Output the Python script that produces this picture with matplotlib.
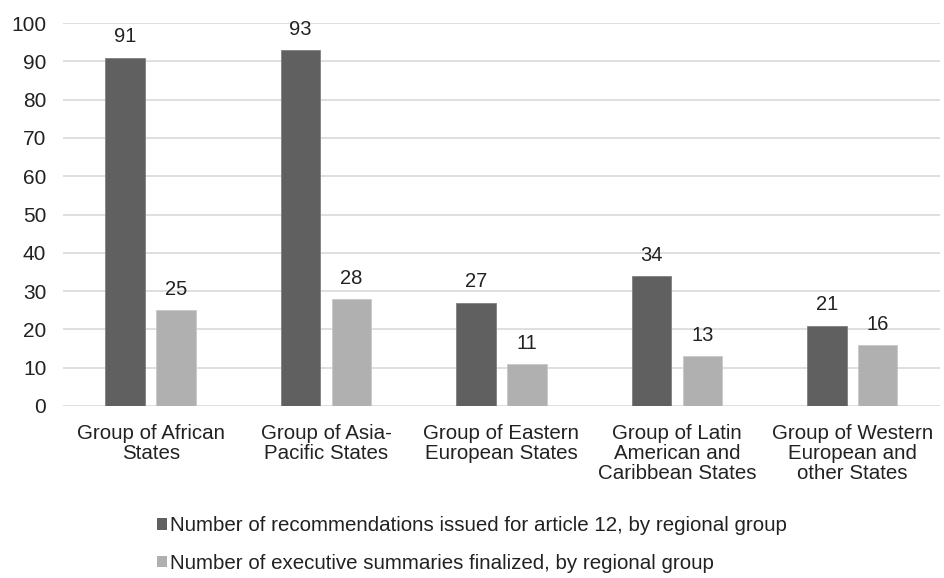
import numpy as np
import matplotlib.pyplot as plt
from matplotlib.patches import Patch

plt.rcParams['font.family'] = ['Liberation Sans', 'DejaVu Sans']

groups = [
    "Group of African\nStates",
    "Group of Asia-\nPacific States",
    "Group of Eastern\nEuropean States",
    "Group of Latin\nAmerican and\nCaribbean States",
    "Group of Western\nEuropean and\nother States",
]
recommendations = [91, 93, 27, 34, 21]
summaries = [25, 28, 11, 13, 16]

series_names = [
    "Number of recommendations issued for article 12, by regional group",
    "Number of executive summaries finalized, by regional group",
]
dark = "#606060"
light = "#b0b0b0"
txt = "#222222"

fig = plt.figure(figsize=(9.44, 5.78), dpi=100)
ax = fig.add_axes([0.0667, 0.2976, 0.929, 0.6625])

x = np.arange(len(groups))
w = 0.225
off = 0.145
b1 = ax.bar(x - off, recommendations, w, color=dark, edgecolor="#808080", linewidth=0.6)
b2 = ax.bar(x + off, summaries, w, color=light, edgecolor="#c8c8c8", linewidth=0.6)

for bars, vals in ((b1, recommendations), (b2, summaries)):
    for bar, v in zip(bars, vals):
        ax.annotate(str(v), (bar.get_x() + bar.get_width() / 2, v),
                    xytext=(0, 8), textcoords="offset points",
                    ha="center", va="bottom", fontsize=14.5, color=txt)

ax.set_xlim(-0.5, len(groups) - 0.5)
ax.set_ylim(0, 100)
ax.set_yticks(range(0, 101, 10))
ax.set_xticks(x)
ax.set_xticklabels(groups, fontsize=14.8, color=txt, linespacing=1.05)
ax.tick_params(axis="y", labelsize=15, labelcolor=txt, length=0, pad=12)
ax.tick_params(axis="x", length=0, pad=13)
ax.grid(axis="y", color="#d9d9d9", linewidth=1.2)
ax.set_axisbelow(True)
for s in ax.spines.values():
    s.set_visible(False)

handles = [Patch(facecolor=dark, label=series_names[0]),
           Patch(facecolor=light, label=series_names[1])]
fig.legend(handles=handles, loc="center", bbox_to_anchor=(0.5, 0.058),
           frameon=False, fontsize=14.8, labelspacing=0.9,
           handlelength=0.5, handleheight=0.5, handletextpad=0.15,
           labelcolor=txt)

fig.savefig("out.png", dpi=100)
